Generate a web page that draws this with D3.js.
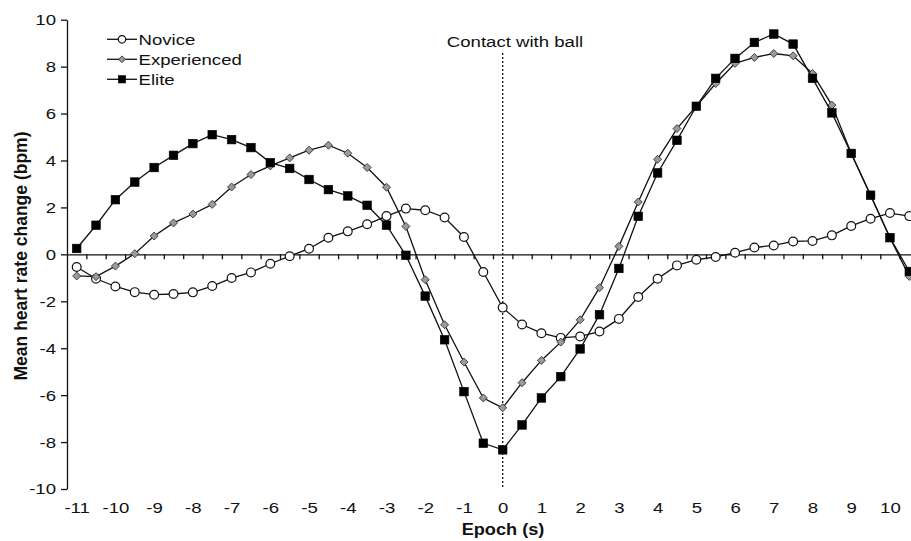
<!DOCTYPE html>
<html>
<head>
<meta charset="utf-8">
<script src="https://cdn.jsdelivr.net/npm/d3@7"></script>
<style>
  html, body { margin: 0; padding: 0; background: #fff; }
  svg { display: block; }
  text { font-family: "Liberation Sans", Arial, Helvetica, sans-serif; fill: #111; }
</style>
</head>
<body>
<svg id="chart" width="911" height="541"></svg>
<script>
// ---- data ----
const epochs = [-11,-10.5,-10,-9.5,-9,-8.5,-8,-7.5,-7,-6.5,-6,-5.5,-5,-4.5,-4,-3.5,-3,-2.5,-2,-1.5,-1,-0.5,
                 0,0.5,1,1.5,2,2.5,3,3.5,4,4.5,5,5.5,6,6.5,7,7.5,8,8.5,9,9.5,10,10.5];
const novice = [-0.54,-1.04,-1.37,-1.61,-1.72,-1.69,-1.62,-1.35,-1.01,-0.77,-0.40,-0.08,0.24,0.71,0.98,1.28,1.63,1.95,1.88,1.57,0.74,-0.75,
                -2.27,-2.99,-3.36,-3.56,-3.50,-3.29,-2.75,-1.82,-1.04,-0.47,-0.23,-0.11,0.07,0.29,0.38,0.55,0.57,0.81,1.21,1.52,1.76,1.63];
const experienced = [-0.92,-0.95,-0.50,0.03,0.78,1.34,1.72,2.13,2.87,3.40,3.77,4.11,4.44,4.65,4.31,3.70,2.86,1.19,-1.08,-3.00,-4.59,-6.12,
                -6.54,-5.47,-4.52,-3.74,-2.79,-1.42,0.34,2.23,4.05,5.36,6.31,7.28,8.14,8.39,8.56,8.46,7.71,6.36,4.30,2.52,0.71,-0.94];
const elite = [0.25,1.24,2.33,3.08,3.70,4.22,4.72,5.10,4.89,4.55,3.91,3.66,3.19,2.76,2.49,2.09,1.24,-0.04,-1.78,-3.64,-5.85,-8.05,
                -8.33,-7.27,-6.12,-5.21,-4.03,-2.57,-0.60,1.62,3.47,4.86,6.31,7.50,8.35,9.03,9.39,8.96,7.50,6.03,4.30,2.52,0.71,-0.73];
const seriesNames = ["Novice", "Experienced", "Elite"];
const xTickLabels = [-11,-10,-9,-8,-7,-6,-5,-4,-3,-2,-1,0,1,2,3,4,5,6,7,8,9,10];
const yTickValues = [-10,-8,-6,-4,-2,0,2,4,6,8,10];
const contactLabel = "Contact with ball";
const xTitle = "Epoch (s)";
const yTitle = "Mean heart rate change (bpm)";

// ---- setup ----
const svg = d3.select("#chart");
svg.append("rect").attr("width", 911).attr("height", 541).attr("fill", "#fff");

const x = d3.scaleLinear().domain([-11.25, 10.75]).range([67, 919]);
const y = d3.scaleLinear().domain([-10, 10]).range([489, 19.7]);
const SX = 1.2; // horizontal stretch of text in the reference

// y axis
const yAxis = svg.append("g").attr("transform", `translate(${x(-11.25)},0)`)
  .call(d3.axisLeft(y).tickValues(yTickValues).tickSizeInner(6).tickSizeOuter(0).tickFormat(d3.format("d")));
yAxis.selectAll("path, line").attr("stroke", "#111").attr("stroke-width", 1.3);
yAxis.selectAll("text")
  .attr("x", -11 / SX)
  .attr("transform", `scale(${SX},1)`)
  .style("font-size", "15.5px")
  .text(d => d < 0 ? "-" + Math.abs(d) : d);

// zero line with category tick marks
const boundaries = epochs.map(e => e + 0.25);
const zeroAxis = svg.append("g").attr("transform", `translate(0,${y(0)})`)
  .call(d3.axisBottom(x).tickValues(boundaries).tickSizeInner(5).tickSizeOuter(0).tickFormat(""));
zeroAxis.selectAll("path, line").attr("stroke", "#111").attr("stroke-width", 1.3);

// bottom tick labels
const xLab = svg.append("g").attr("transform", `translate(0,${y(-10)})`)
  .call(d3.axisBottom(x).tickValues(xTickLabels).tickSize(0).tickPadding(13));
xLab.select(".domain").remove();
xLab.selectAll("text")
  .attr("transform", `scale(${SX},1)`)
  .attr("x", d => 0)
  .style("font-size", "15.5px")
  .text(d => d < 0 ? "-" + Math.abs(d) : d);
// scale around tick origin keeps centre at 0

// contact line
svg.append("line")
  .attr("x1", x(0)).attr("x2", x(0))
  .attr("y1", 53).attr("y2", y(-10))
  .attr("stroke", "#111").attr("stroke-width", 1.3).attr("stroke-dasharray", "2,2");

svg.append("text")
  .attr("transform", `translate(515,46.5) scale(${SX},1)`)
  .attr("text-anchor", "middle")
  .style("font-size", "15.5px")
  .text(contactLabel);

// axis titles
svg.append("text")
  .attr("transform", `translate(503,535) scale(1.1,1)`)
  .attr("text-anchor", "middle")
  .style("font-size", "16.5px").style("font-weight", "bold")
  .text(xTitle);

svg.append("text")
  .attr("transform", `translate(26.5,256) rotate(-90)`)
  .attr("text-anchor", "middle")
  .style("font-size", "17.5px").style("font-weight", "bold")
  .text(yTitle);

// ---- series ----
const allSeries = [novice, experienced, elite];
const line = d3.line().x((d, i) => x(epochs[i])).y(d => y(d));

function drawMarker(g, type, cx, cy, scale) {
  const s = scale || 1;
  if (type === 0) {
    g.append("circle").attr("cx", cx).attr("cy", cy).attr("r", 4.4 * s)
      .attr("fill", "#fff").attr("stroke", "#111").attr("stroke-width", 1.2);
  } else if (type === 1) {
    const r = 4 * s;
    g.append("path")
      .attr("d", `M${cx},${cy - r}L${cx + r},${cy}L${cx},${cy + r}L${cx - r},${cy}Z`)
      .attr("fill", "#9a9a9a").attr("stroke", "#333").attr("stroke-width", 0.9);
  } else {
    const h = 4.3 * s;
    g.append("rect").attr("x", cx - h).attr("y", cy - h).attr("width", 2 * h).attr("height", 2 * h)
      .attr("fill", "#000").attr("stroke", "#000").attr("stroke-width", 0.6);
  }
}

allSeries.forEach((vals, si) => {
  const g = svg.append("g");
  g.append("path").datum(vals).attr("d", line)
    .attr("fill", "none").attr("stroke", "#111").attr("stroke-width", 1.3);
  vals.forEach((v, i) => drawMarker(g, si, x(epochs[i]), y(v)));
});

// ---- legend ----
const legendY = [39.3, 59.3, 79.3];
seriesNames.forEach((name, i) => {
  const g = svg.append("g");
  g.append("line").attr("x1", 107).attr("x2", 137).attr("y1", legendY[i]).attr("y2", legendY[i])
    .attr("stroke", "#111").attr("stroke-width", 1.3);
  drawMarker(g, i, 122, legendY[i], 0.85);
  g.append("text")
    .attr("transform", `translate(138.5,${legendY[i] + 5.5}) scale(${SX},1)`)
    .style("font-size", "15.5px")
    .text(name);
});
</script>
</body>
</html>
